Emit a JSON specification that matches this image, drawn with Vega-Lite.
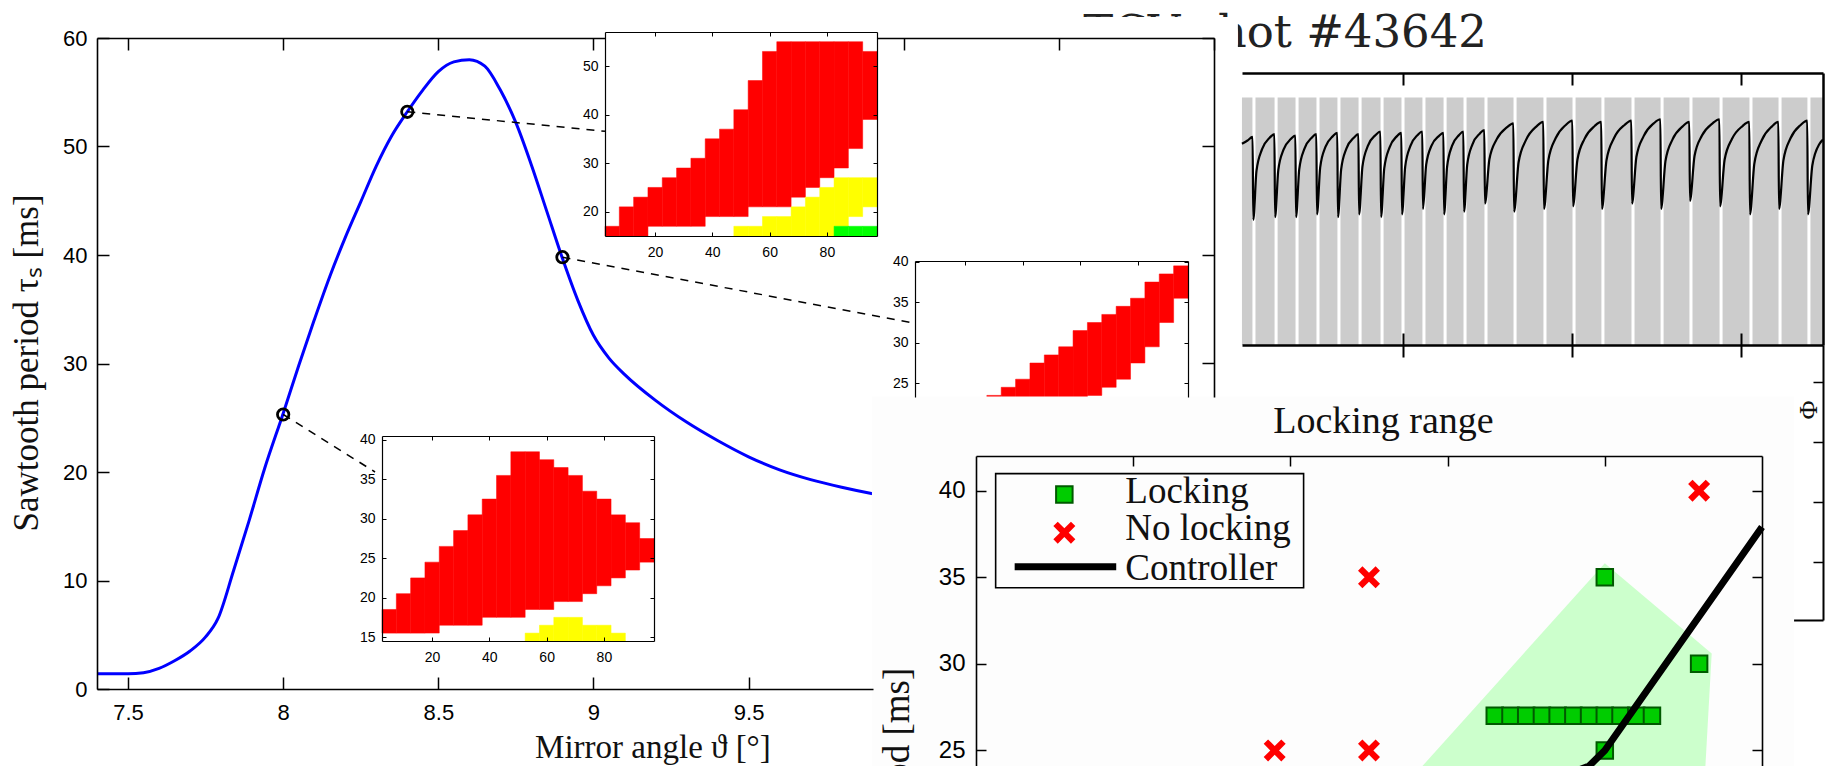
{
"$schema":"https://vega.github.io/schema/vega-lite/v6.json",
"width":1825,"height":766,"autosize":"none","padding":0,"background":"white",
"config":{"view":{"stroke":null},"axis":{"grid":false,"labelFont":"Liberation Sans","labelColor":"#000","domainColor":"#000","tickColor":"#000","labelFlush":false,"labelOverlap":false}},
"resolve":{"scale":{"x":"independent","y":"independent","color":"independent","stroke":"independent"},"axis":{"x":"independent","y":"independent"}},
"layer":[
{"data":{"values":[{"t0":504.7,"t1":510.9},{"t0":512.7,"t1":524.0},{"t0":525.8,"t1":536.4},{"t0":538.2,"t1":548.8},{"t0":550.6,"t1":561.2},{"t0":563.0,"t1":573.7},{"t0":575.5,"t1":586.7},{"t0":588.5,"t1":599.1},{"t0":600.9,"t1":611.5},{"t0":613.3,"t1":624.0},{"t0":625.8,"t1":635.8},{"t0":637.6,"t1":648.2},{"t0":650.0,"t1":665.4},{"t0":667.2,"t1":683.1},{"t0":684.9,"t1":700.3},{"t0":702.1,"t1":717.4},{"t0":719.2,"t1":735.2},{"t0":737.0,"t1":752.4},{"t0":754.2,"t1":769.5},{"t0":771.3,"t1":787.3},{"t0":789.1,"t1":805.0},{"t0":806.8,"t1":822.2},{"t0":824.0,"t1":839.3},{"t0":841.1,"t1":848.5}]},
 "mark":{"type":"rect","fill":"#cccccc"},
 "encoding":{
  "x":{"field":"t0","type":"quantitative","scale":{"domain":[504.73,848.52],"range":[1242,1823],"nice":false,"zero":false},"axis":{"orient":"top","offset":-73,"values":[600,700,800],"tickSize":-12,"tickWidth":2,"labels":false,"domainWidth":2.5,"zindex":1,"title":null}},
  "x2":{"field":"t1"},
  "y":{"datum":0,"type":"quantitative","scale":{"domain":[0,1],"range":[345,73],"nice":false,"zero":false},"axis":null},
  "y2":{"datum":0.91}}},
{"data":{"values":[
{"t":504.7,"v":0.74},{"t":508.0,"v":0.752},{"t":511.0,"v":0.765},
{"t":511.4,"v":0.46},{"t":513.3,"v":0.64},{"t":516.6,"v":0.72},{"t":521.1,"v":0.762},{"t":523.9,"v":0.775},
{"t":524.3,"v":0.47},{"t":526.2,"v":0.643},{"t":529.3,"v":0.718},{"t":533.6,"v":0.757},{"t":536.3,"v":0.77},
{"t":536.7,"v":0.47},{"t":538.6,"v":0.646},{"t":541.7,"v":0.722},{"t":546.0,"v":0.762},{"t":548.7,"v":0.775},
{"t":549.1,"v":0.48},{"t":551.0,"v":0.653},{"t":554.1,"v":0.728},{"t":558.4,"v":0.767},{"t":561.1,"v":0.78},
{"t":561.5,"v":0.47},{"t":563.4,"v":0.646},{"t":566.5,"v":0.722},{"t":570.9,"v":0.762},{"t":573.6,"v":0.775},
{"t":574.0,"v":0.48},{"t":576.0,"v":0.656},{"t":579.2,"v":0.732},{"t":583.8,"v":0.772},{"t":586.6,"v":0.785},
{"t":587.0,"v":0.47},{"t":588.9,"v":0.649},{"t":592.0,"v":0.726},{"t":596.3,"v":0.767},{"t":599.0,"v":0.78},
{"t":599.4,"v":0.48},{"t":601.3,"v":0.656},{"t":604.4,"v":0.732},{"t":608.7,"v":0.772},{"t":611.4,"v":0.785},
{"t":611.8,"v":0.50},{"t":613.7,"v":0.662},{"t":616.8,"v":0.732},{"t":621.2,"v":0.768},{"t":623.9,"v":0.78},
{"t":624.3,"v":0.48},{"t":626.1,"v":0.656},{"t":629.0,"v":0.732},{"t":633.2,"v":0.772},{"t":635.7,"v":0.785},
{"t":636.1,"v":0.49},{"t":638.0,"v":0.663},{"t":641.1,"v":0.738},{"t":645.4,"v":0.777},{"t":648.1,"v":0.79},
{"t":648.5,"v":0.52},{"t":651.1,"v":0.682},{"t":655.4,"v":0.756},{"t":661.4,"v":0.80},{"t":665.3,"v":0.815},
{"t":665.7,"v":0.49},{"t":668.4,"v":0.672},{"t":672.8,"v":0.754},{"t":679.0,"v":0.804},{"t":683.0,"v":0.82},
{"t":683.4,"v":0.50},{"t":686.0,"v":0.679},{"t":690.3,"v":0.76},{"t":696.3,"v":0.809},{"t":700.2,"v":0.825},
{"t":700.6,"v":0.51},{"t":703.2,"v":0.681},{"t":707.4,"v":0.758},{"t":713.4,"v":0.805},{"t":717.3,"v":0.82},
{"t":717.7,"v":0.50},{"t":720.4,"v":0.679},{"t":724.8,"v":0.76},{"t":731.1,"v":0.809},{"t":735.1,"v":0.825},
{"t":735.5,"v":0.52},{"t":738.1,"v":0.691},{"t":742.4,"v":0.768},{"t":748.4,"v":0.815},{"t":752.3,"v":0.83},
{"t":752.7,"v":0.50},{"t":755.3,"v":0.676},{"t":759.5,"v":0.756},{"t":765.5,"v":0.804},{"t":769.4,"v":0.82},
{"t":769.8,"v":0.53},{"t":772.5,"v":0.695},{"t":776.9,"v":0.77},{"t":783.2,"v":0.815},{"t":787.2,"v":0.83},
{"t":787.6,"v":0.51},{"t":790.3,"v":0.681},{"t":794.7,"v":0.758},{"t":800.9,"v":0.805},{"t":804.9,"v":0.82},
{"t":805.3,"v":0.48},{"t":807.9,"v":0.667},{"t":812.2,"v":0.752},{"t":818.2,"v":0.803},{"t":822.1,"v":0.82},
{"t":822.5,"v":0.50},{"t":825.1,"v":0.679},{"t":829.3,"v":0.76},{"t":835.3,"v":0.809},{"t":839.2,"v":0.825},
{"t":839.6,"v":0.48},{"t":842.2,"v":0.66},{"t":846.5,"v":0.74},{"t":848.5,"v":0.755}]},
 "mark":{"type":"line","color":"#000","strokeWidth":2.2,"interpolate":"monotone"},
 "encoding":{
  "x":{"field":"t","type":"quantitative","scale":{"domain":[504.73,848.52],"range":[1242,1823],"nice":false,"zero":false},"axis":{"orient":"bottom","offset":-421,"values":[600,700,800],"tickSize":-12,"tickWidth":2,"labels":false,"domainWidth":2.5,"zindex":1,"title":null}},
  "y":{"field":"v","type":"quantitative","scale":{"domain":[0,1],"range":[345,73],"nice":false,"zero":false},"axis":{"orient":"right","offset":-2,"ticks":false,"labels":false,"domainWidth":2.5,"zindex":1,"title":null}}}},
{"data":{"values":[{"t":649.7,"v":1.096,"label":"TCV shot #43642"}]},
 "mark":{"type":"text","font":"DejaVu Serif","fontSize":45,"align":"right","baseline":"alphabetic","color":"#222"},
 "encoding":{
  "text":{"field":"label"},
  "x":{"field":"t","type":"quantitative","scale":{"domain":[504.73,848.52],"range":[1242,1823],"nice":false,"zero":false},"axis":{"orient":"bottom","offset":-421,"values":[600,700,800],"tickSize":12,"tickWidth":2,"labels":false,"domain":false,"zindex":1,"title":null}},
  "y":{"field":"v","type":"quantitative","scale":{"domain":[0,1],"range":[345,73],"nice":false,"zero":false},"axis":null}}},
{"data":{"values":[{"t":839.6,"p":3.533,"label":"Φ"}]},
 "mark":{"type":"text","font":"Liberation Serif","fontSize":26,"angle":90,"align":"center","baseline":"middle","color":"#111"},
 "encoding":{
  "text":{"field":"label"},
  "x":{"field":"t","type":"quantitative","scale":{"domain":[504.73,848.52],"range":[1242,1823],"nice":false,"zero":false},"axis":{"orient":"bottom","offset":-146,"ticks":false,"labels":false,"domainWidth":2,"title":null}},
  "y":{"field":"p","type":"quantitative","scale":{"domain":[0.033,4.617],"range":[620,345],"nice":false,"zero":false},"axis":{"orient":"right","offset":-2,"values":[1,2,3,4],"tickSize":-10,"tickWidth":1.5,"labels":false,"domainWidth":2,"title":null}}}},
{"data":{"values":[{"a":7.40,"tau":1.4},{"a":7.50,"tau":1.4},{"a":7.55,"tau":1.5},{"a":7.60,"tau":1.9},{"a":7.65,"tau":2.6},{"a":7.70,"tau":3.5},{"a":7.75,"tau":4.8},{"a":7.79,"tau":6.5},{"a":7.84,"tau":10.9},{"a":7.89,"tau":15.5},{"a":7.94,"tau":20.3},{"a":8.00,"tau":25.4},{"a":8.05,"tau":29.8},{"a":8.10,"tau":34.0},{"a":8.15,"tau":38.0},{"a":8.20,"tau":41.6},{"a":8.25,"tau":44.9},{"a":8.30,"tau":48.2},{"a":8.35,"tau":51.0},{"a":8.40,"tau":53.2},{"a":8.45,"tau":55.2},{"a":8.50,"tau":56.9},{"a":8.55,"tau":57.8},{"a":8.60,"tau":58.0},{"a":8.65,"tau":57.4},{"a":8.70,"tau":55.2},{"a":8.75,"tau":52.2},{"a":8.80,"tau":48.3},{"a":8.85,"tau":44.0},{"a":8.90,"tau":39.7},{"a":8.95,"tau":35.8},{"a":9.00,"tau":32.6},{"a":9.05,"tau":30.5},{"a":9.10,"tau":29.0},{"a":9.20,"tau":26.6},{"a":9.30,"tau":24.6},{"a":9.40,"tau":22.9},{"a":9.50,"tau":21.4},{"a":9.60,"tau":20.2},{"a":9.70,"tau":19.3},{"a":9.80,"tau":18.6},{"a":9.90,"tau":18.0},{"a":10.0,"tau":17.5},{"a":10.2,"tau":16.6},{"a":10.5,"tau":15.5},{"a":11.0,"tau":14.2}]},
 "mark":{"type":"line","color":"#0000ff","strokeWidth":3,"interpolate":"monotone"},
 "encoding":{
  "x":{"field":"a","type":"quantitative","scale":{"domain":[7.4,11.0],"range":[97,1214],"nice":false,"zero":false},"axis":null},
  "y":{"field":"tau","type":"quantitative","scale":{"domain":[0,60],"range":[689,38],"nice":false,"zero":false},"axis":{"orient":"left","offset":-97,"values":[0,10,20,30,40,50,60],"tickSize":-12,"tickWidth":1.5,"labelPadding":22,"labelFontSize":22,"domainWidth":1.6,"zindex":1,"title":null}}}},
{"data":{"values":[{"a":8.0,"tau":25.3},{"a":8.4,"tau":53.2},{"a":8.9,"tau":39.8}]},
 "mark":{"type":"point","shape":"circle","filled":false,"color":"#000","strokeWidth":2.8,"size":130,"opacity":1},
 "encoding":{
  "x":{"field":"a","type":"quantitative","scale":{"domain":[7.4,9.9008],"range":[97,873],"nice":false,"zero":false},"axis":{"orient":"bottom","offset":-77,"values":[7.5,8,8.5,9,9.5],"format":"~g","tickSize":-12,"tickWidth":1.5,"labelPadding":25,"labelFontSize":22,"domainWidth":1.6,"zindex":1,"title":null}},
  "y":{"field":"tau","type":"quantitative","scale":{"domain":[0,60],"range":[689,38],"nice":false,"zero":false},"axis":null}}},
{"data":{"values":[{"seg":"A","a":8.4,"tau":53.2},{"seg":"A","a":9.037,"tau":51.4},{"seg":"B","a":8.9,"tau":39.8},{"seg":"B","a":10.036,"tau":33.7},{"seg":"C","a":8.0,"tau":25.3},{"seg":"C","a":8.296,"tau":20.0}]},
 "mark":{"type":"line","color":"#000","strokeWidth":1.5,"strokeDash":[8,7]},
 "encoding":{
  "detail":{"field":"seg"},
  "x":{"field":"a","type":"quantitative","scale":{"domain":[7.4,9.0371],"range":[97,605],"nice":false,"zero":false},"axis":{"orient":"top","offset":-38,"values":[7.5,8,8.5,9],"tickSize":-12,"tickWidth":1.5,"labels":false,"domainWidth":1.6,"zindex":1,"title":null}},
  "y":{"field":"tau","type":"quantitative","scale":{"domain":[26.912,60],"range":[397,38],"nice":false,"zero":false},"axis":{"orient":"right","offset":-611,"values":[30,40,50,60],"tickSize":-12,"tickWidth":1.5,"labels":false,"domainWidth":1.6,"zindex":1,"title":null}}}},
{"data":{"values":[{"a0":10.439,"a1":11.077,"t0":57.97,"t1":61.94}]},
 "mark":{"type":"rect","fill":"white"},
 "encoding":{
  "x":{"field":"a0","type":"quantitative","scale":{"domain":[9.9139,11.0],"range":[877,1214],"nice":false,"zero":false},"axis":{"orient":"top","offset":-38,"values":[10,10.5,11],"tickSize":-12,"tickWidth":1.5,"labels":false,"domainWidth":1.6,"zindex":1,"title":null}},
  "x2":{"field":"a1"},
  "y":{"field":"t0","type":"quantitative","scale":{"domain":[0,60],"range":[689,38],"nice":false,"zero":false},"axis":null},
  "y2":{"field":"t1"}}},
{"data":{"values":[{"a":9.1918,"tau":-6.36,"label":"Mirror angle ϑ [°]"}]},
 "mark":{"type":"text","font":"Liberation Serif","fontSize":33,"align":"center","baseline":"alphabetic","color":"#111"},
 "encoding":{
  "text":{"field":"label"},
  "x":{"field":"a","type":"quantitative","scale":{"domain":[7.4,11.0],"range":[97,1214],"nice":false,"zero":false},"axis":null},
  "y":{"field":"tau","type":"quantitative","scale":{"domain":[0,60],"range":[689,38],"nice":false,"zero":false},"axis":null}}},
{"data":{"values":[{"a":7.1744,"tau":30.05,"label":"Sawtooth period τₛ [ms]"}]},
 "mark":{"type":"text","font":"Liberation Serif","fontSize":35,"align":"center","baseline":"middle","angle":270,"color":"#111"},
 "encoding":{
  "text":{"field":"label"},
  "x":{"field":"a","type":"quantitative","scale":{"domain":[7.4,11.0],"range":[97,1214],"nice":false,"zero":false},"axis":null},
  "y":{"field":"tau","type":"quantitative","scale":{"domain":[0,60],"range":[689,38],"nice":false,"zero":false},"axis":null}}},
{"data":{"values":[{"x0":2.5,"x1":97.5,"y0":15,"y1":57}]},
 "mark":{"type":"rect","fill":"white"},
 "encoding":{
  "x":{"field":"x0","type":"quantitative","scale":{"domain":[2.5,97.5],"range":[605,877],"nice":false,"zero":false},"axis":{"orient":"bottom","offset":-530,"values":[20,40,60,80],"tickSize":-4,"tickWidth":1,"labelPadding":13,"labelFontSize":14,"domainWidth":1.2,"zindex":1,"title":null}},
  "x2":{"field":"x1"},
  "y":{"field":"y0","type":"quantitative","scale":{"domain":[15,57],"range":[236,32],"nice":false,"zero":false},"axis":{"orient":"left","offset":-605,"values":[20,30,40,50],"tickSize":-4,"tickWidth":1,"labelPadding":11,"labelFontSize":14,"domainWidth":1.2,"zindex":1,"title":null}},
  "y2":{"field":"y1"}}},
{"data":{"values":[
{"x0":2.5,"x1":7.5,"y0":15,"y1":17,"c":"red"},{"x0":7.5,"x1":12.5,"y0":15,"y1":21,"c":"red"},{"x0":12.5,"x1":17.5,"y0":15,"y1":23,"c":"red"},{"x0":17.5,"x1":22.5,"y0":17,"y1":25,"c":"red"},{"x0":22.5,"x1":27.5,"y0":17,"y1":27,"c":"red"},{"x0":27.5,"x1":32.5,"y0":17,"y1":29,"c":"red"},{"x0":32.5,"x1":37.5,"y0":17,"y1":31,"c":"red"},{"x0":37.5,"x1":42.5,"y0":19,"y1":35,"c":"red"},{"x0":42.5,"x1":47.5,"y0":19,"y1":37,"c":"red"},{"x0":47.5,"x1":52.5,"y0":19,"y1":41,"c":"red"},{"x0":52.5,"x1":57.5,"y0":21,"y1":47,"c":"red"},{"x0":57.5,"x1":62.5,"y0":21,"y1":53,"c":"red"},{"x0":62.5,"x1":67.5,"y0":21,"y1":55,"c":"red"},{"x0":67.5,"x1":72.5,"y0":23,"y1":55,"c":"red"},{"x0":72.5,"x1":77.5,"y0":25,"y1":55,"c":"red"},{"x0":77.5,"x1":82.5,"y0":27,"y1":55,"c":"red"},{"x0":82.5,"x1":87.5,"y0":29,"y1":55,"c":"red"},{"x0":87.5,"x1":92.5,"y0":33,"y1":55,"c":"red"},{"x0":92.5,"x1":97.5,"y0":39,"y1":53,"c":"red"},
{"x0":47.5,"x1":52.5,"y0":15,"y1":17,"c":"yellow"},{"x0":52.5,"x1":57.5,"y0":15,"y1":17,"c":"yellow"},{"x0":57.5,"x1":62.5,"y0":15,"y1":19,"c":"yellow"},{"x0":62.5,"x1":67.5,"y0":15,"y1":19,"c":"yellow"},{"x0":67.5,"x1":72.5,"y0":15,"y1":21,"c":"yellow"},{"x0":72.5,"x1":77.5,"y0":15,"y1":23,"c":"yellow"},{"x0":77.5,"x1":82.5,"y0":15,"y1":25,"c":"yellow"},{"x0":82.5,"x1":87.5,"y0":17,"y1":27,"c":"yellow"},{"x0":87.5,"x1":92.5,"y0":19,"y1":27,"c":"yellow"},{"x0":92.5,"x1":97.5,"y0":21,"y1":27,"c":"yellow"},
{"x0":82.5,"x1":87.5,"y0":15,"y1":17,"c":"green"},{"x0":87.5,"x1":92.5,"y0":15,"y1":17,"c":"green"},{"x0":92.5,"x1":97.5,"y0":15,"y1":17,"c":"green"}]},
 "mark":{"type":"rect","strokeWidth":0.5},
 "encoding":{
  "color":{"field":"c","type":"nominal","scale":{"domain":["red","yellow","green"],"range":["#ff0000","#ffff00","#00ff00"]},"legend":null},
  "stroke":{"field":"c","type":"nominal","scale":{"domain":["red","yellow","green"],"range":["#ff0000","#ffff00","#00ff00"]},"legend":null},
  "x":{"field":"x0","type":"quantitative","scale":{"domain":[2.5,97.5],"range":[605,877],"nice":false,"zero":false},"axis":{"orient":"top","offset":-32,"values":[20,40,60,80],"tickSize":-4,"tickWidth":1,"labels":false,"domainWidth":1.2,"zindex":1,"title":null}},
  "x2":{"field":"x1"},
  "y":{"field":"y0","type":"quantitative","scale":{"domain":[15,57],"range":[236,32],"nice":false,"zero":false},"axis":{"orient":"right","offset":-948,"values":[20,30,40,50],"tickSize":-4,"tickWidth":1,"labels":false,"domainWidth":1.2,"zindex":1,"title":null}},
  "y2":{"field":"y1"}}},
{"data":{"values":[{"x0":2.5,"x1":97.5,"y0":14.5,"y1":40.1}]},
 "mark":{"type":"rect","fill":"white"},
 "encoding":{
  "x":{"field":"x0","type":"quantitative","scale":{"domain":[2.5,97.5],"range":[915,1188],"nice":false,"zero":false},"axis":{"orient":"top","offset":-261,"values":[20,40,60,80],"tickSize":-4,"tickWidth":1,"labels":false,"domainWidth":1.2,"zindex":1,"title":null}},
  "x2":{"field":"x1"},
  "y":{"field":"y0","type":"quantitative","scale":{"domain":[23.3,40.1],"range":[397,261],"nice":false,"zero":false},"axis":{"orient":"left","offset":-915,"values":[25,30,35,40],"tickSize":-4,"tickWidth":1,"labelPadding":11,"labelFontSize":14,"domainWidth":1.2,"zindex":1,"title":null}},
  "y2":{"field":"y1"}}},
{"data":{"values":[
{"x0":27.5,"x1":32.5,"y0":16.5,"y1":23.5,"c":"red"},{"x0":32.5,"x1":37.5,"y0":17.5,"y1":24.5,"c":"red"},{"x0":37.5,"x1":42.5,"y0":18.5,"y1":25.5,"c":"red"},{"x0":42.5,"x1":47.5,"y0":19.5,"y1":27.5,"c":"red"},{"x0":47.5,"x1":52.5,"y0":20.5,"y1":28.5,"c":"red"},{"x0":52.5,"x1":57.5,"y0":21.5,"y1":29.5,"c":"red"},{"x0":57.5,"x1":62.5,"y0":22.5,"y1":31.5,"c":"red"},{"x0":62.5,"x1":67.5,"y0":23.5,"y1":32.5,"c":"red"},{"x0":67.5,"x1":72.5,"y0":24.5,"y1":33.5,"c":"red"},{"x0":72.5,"x1":77.5,"y0":25.5,"y1":34.5,"c":"red"},{"x0":77.5,"x1":82.5,"y0":27.5,"y1":35.5,"c":"red"},{"x0":82.5,"x1":87.5,"y0":29.5,"y1":37.5,"c":"red"},{"x0":87.5,"x1":92.5,"y0":32.5,"y1":38.5,"c":"red"},{"x0":92.5,"x1":97.5,"y0":35.5,"y1":39.5,"c":"red"}]},
 "mark":{"type":"rect","strokeWidth":0.5},
 "encoding":{
  "color":{"field":"c","type":"nominal","scale":{"domain":["red","yellow","green"],"range":["#ff0000","#ffff00","#00ff00"]},"legend":null},
  "stroke":{"field":"c","type":"nominal","scale":{"domain":["red","yellow","green"],"range":["#ff0000","#ffff00","#00ff00"]},"legend":null},
  "x":{"field":"x0","type":"quantitative","scale":{"domain":[2.5,97.5],"range":[915,1188],"nice":false,"zero":false},"axis":null},
  "x2":{"field":"x1"},
  "y":{"field":"y0","type":"quantitative","scale":{"domain":[23.3,40.1],"range":[397,261],"nice":false,"zero":false},"axis":{"orient":"right","offset":-637,"values":[25,30,35,40],"tickSize":-4,"tickWidth":1,"labels":false,"domainWidth":1.2,"zindex":1,"title":null}},
  "y2":{"field":"y1"}}},
{"data":{"values":[{"x0":2.5,"x1":97.5,"y0":14.5,"y1":40.5}]},
 "mark":{"type":"rect","fill":"white"},
 "encoding":{
  "x":{"field":"x0","type":"quantitative","scale":{"domain":[2.5,97.5],"range":[382,654],"nice":false,"zero":false},"axis":{"orient":"bottom","offset":-125,"values":[20,40,60,80],"tickSize":-4,"tickWidth":1,"labelPadding":13,"labelFontSize":14,"domainWidth":1.2,"zindex":1,"title":null}},
  "x2":{"field":"x1"},
  "y":{"field":"y0","type":"quantitative","scale":{"domain":[14.5,40.5],"range":[641,436],"nice":false,"zero":false},"axis":{"orient":"left","offset":-382,"values":[15,20,25,30,35,40],"tickSize":-4,"tickWidth":1,"labelPadding":11,"labelFontSize":14,"domainWidth":1.2,"zindex":1,"title":null}},
  "y2":{"field":"y1"}}},
{"data":{"values":[
{"x0":2.5,"x1":7.5,"y0":15.5,"y1":18.5,"c":"red"},{"x0":7.5,"x1":12.5,"y0":15.5,"y1":20.5,"c":"red"},{"x0":12.5,"x1":17.5,"y0":15.5,"y1":22.5,"c":"red"},{"x0":17.5,"x1":22.5,"y0":15.5,"y1":24.5,"c":"red"},{"x0":22.5,"x1":27.5,"y0":16.5,"y1":26.5,"c":"red"},{"x0":27.5,"x1":32.5,"y0":16.5,"y1":28.5,"c":"red"},{"x0":32.5,"x1":37.5,"y0":16.5,"y1":30.5,"c":"red"},{"x0":37.5,"x1":42.5,"y0":17.5,"y1":32.5,"c":"red"},{"x0":42.5,"x1":47.5,"y0":17.5,"y1":35.5,"c":"red"},{"x0":47.5,"x1":52.5,"y0":17.5,"y1":38.5,"c":"red"},{"x0":52.5,"x1":57.5,"y0":18.5,"y1":38.5,"c":"red"},{"x0":57.5,"x1":62.5,"y0":18.5,"y1":37.5,"c":"red"},{"x0":62.5,"x1":67.5,"y0":19.5,"y1":36.5,"c":"red"},{"x0":67.5,"x1":72.5,"y0":19.5,"y1":35.5,"c":"red"},{"x0":72.5,"x1":77.5,"y0":20.5,"y1":33.5,"c":"red"},{"x0":77.5,"x1":82.5,"y0":21.5,"y1":32.5,"c":"red"},{"x0":82.5,"x1":87.5,"y0":22.5,"y1":30.5,"c":"red"},{"x0":87.5,"x1":92.5,"y0":23.5,"y1":29.5,"c":"red"},{"x0":92.5,"x1":97.5,"y0":24.5,"y1":27.5,"c":"red"},
{"x0":52.5,"x1":57.5,"y0":14.5,"y1":15.5,"c":"yellow"},{"x0":57.5,"x1":62.5,"y0":14.5,"y1":16.5,"c":"yellow"},{"x0":62.5,"x1":67.5,"y0":14.5,"y1":17.5,"c":"yellow"},{"x0":67.5,"x1":72.5,"y0":14.5,"y1":17.5,"c":"yellow"},{"x0":72.5,"x1":77.5,"y0":14.5,"y1":16.5,"c":"yellow"},{"x0":77.5,"x1":82.5,"y0":14.5,"y1":16.5,"c":"yellow"},{"x0":82.5,"x1":87.5,"y0":14.5,"y1":15.5,"c":"yellow"}]},
 "mark":{"type":"rect","strokeWidth":0.5},
 "encoding":{
  "color":{"field":"c","type":"nominal","scale":{"domain":["red","yellow","green"],"range":["#ff0000","#ffff00","#00ff00"]},"legend":null},
  "stroke":{"field":"c","type":"nominal","scale":{"domain":["red","yellow","green"],"range":["#ff0000","#ffff00","#00ff00"]},"legend":null},
  "x":{"field":"x0","type":"quantitative","scale":{"domain":[2.5,97.5],"range":[382,654],"nice":false,"zero":false},"axis":{"orient":"top","offset":-436,"values":[20,40,60,80],"tickSize":-4,"tickWidth":1,"labels":false,"domainWidth":1.2,"zindex":1,"title":null}},
  "x2":{"field":"x1"},
  "y":{"field":"y0","type":"quantitative","scale":{"domain":[14.5,40.5],"range":[641,436],"nice":false,"zero":false},"axis":{"orient":"right","offset":-1171,"values":[15,20,25,30,35,40],"tickSize":-4,"tickWidth":1,"labels":false,"domainWidth":1.2,"zindex":1,"title":null}},
  "y2":{"field":"y1"}}},
{"data":{"values":[{"x0":6.69,"x1":36.02,"y0":20,"y1":45.43}]},
 "mark":{"type":"rect","fill":"#fdfdfd"},
 "encoding":{
  "x":{"field":"x0","type":"quantitative","scale":{"domain":[10,35],"range":[976,1762],"nice":false,"zero":false},"axis":{"orient":"top","offset":-456,"values":[15,20,25,30],"tickSize":-10,"tickWidth":1.5,"labels":false,"domainWidth":1.6,"zindex":1,"title":null}},
  "x2":{"field":"x1"},
  "y":{"field":"y0","type":"quantitative","scale":{"domain":[20,42],"range":[837,456],"nice":false,"zero":false},"axis":{"orient":"left","offset":-976,"values":[25,30,35,40],"tickSize":-10,"tickWidth":1.5,"labelPadding":21,"labelFontSize":24,"domainWidth":1.6,"zindex":1,"title":null}},
  "y2":{"field":"y1"}}},
{"data":{"values":[{"py":20,"xl":22.2,"xr":33.1},{"py":24.1,"xl":24.2,"xr":33.2},{"py":30.6,"xl":27.42,"xr":33.4},{"py":35.8,"xl":30.0,"xr":30.0}]},
 "mark":{"type":"area","orient":"horizontal","fill":"#ccffcc","opacity":1},
 "encoding":{
  "y":{"field":"py","type":"quantitative","scale":{"domain":[20,42],"range":[837,456],"nice":false,"zero":false},"axis":{"orient":"right","offset":-63,"values":[25,30,35,40],"tickSize":-10,"tickWidth":1.5,"labels":false,"domainWidth":1.6,"zindex":1,"title":null}},
  "x":{"field":"xl","type":"quantitative","scale":{"domain":[10,35],"range":[976,1762],"nice":false,"zero":false},"axis":null},
  "x2":{"field":"xr"}}},
{"data":{"values":[{"x":30,"y":35},{"x":33,"y":30},{"x":30,"y":25},{"x":26.5,"y":27},{"x":27,"y":27},{"x":27.5,"y":27},{"x":28,"y":27},{"x":28.5,"y":27},{"x":29,"y":27},{"x":29.5,"y":27},{"x":30,"y":27},{"x":30.5,"y":27},{"x":31,"y":27},{"x":31.5,"y":27},{"x":12.81,"y":39.77}]},
 "mark":{"type":"point","shape":"square","filled":true,"fill":"#00cc00","stroke":"#005a00","strokeWidth":2,"size":272,"opacity":1},
 "encoding":{
  "x":{"field":"x","type":"quantitative","scale":{"domain":[10,35],"range":[976,1762],"nice":false,"zero":false},"axis":null},
  "y":{"field":"y","type":"quantitative","scale":{"domain":[20,42],"range":[837,456],"nice":false,"zero":false},"axis":null}}},
{"data":{"values":[{"x":19.5,"y":25},{"x":22.5,"y":25},{"x":22.5,"y":35},{"x":33,"y":40},{"x":12.81,"y":37.57}]},
 "mark":{"type":"point","shape":"M-1,-0.6L-0.6,-1L0,-0.4L0.6,-1L1,-0.6L0.4,0L1,0.6L0.6,1L0,0.4L-0.6,1L-1,0.6L-0.4,0Z","filled":true,"fill":"#ff0000","strokeWidth":0,"size":484,"opacity":1},
 "encoding":{
  "x":{"field":"x","type":"quantitative","scale":{"domain":[10,35],"range":[976,1762],"nice":false,"zero":false},"axis":null},
  "y":{"field":"y","type":"quantitative","scale":{"domain":[20,42],"range":[837,456],"nice":false,"zero":false},"axis":null}}},
{"data":{"values":[{"x":28.5,"y":23.4},{"x":29.5,"y":24.1},{"x":30.0,"y":25.0},{"x":35.0,"y":37.9}]},
 "mark":{"type":"line","color":"#000","strokeWidth":7},
 "encoding":{
  "x":{"field":"x","type":"quantitative","scale":{"domain":[10,35],"range":[976,1762],"nice":false,"zero":false},"axis":null},
  "y":{"field":"y","type":"quantitative","scale":{"domain":[20,42],"range":[837,456],"nice":false,"zero":false},"axis":null}}},
{"data":{"values":[{"x0":10.625,"x1":20.42,"y0":34.39,"y1":40.98}]},
 "mark":{"type":"rect","fill":"#ffffff","fillOpacity":0,"stroke":"#000","strokeWidth":1.6},
 "encoding":{
  "x":{"field":"x0","type":"quantitative","scale":{"domain":[10,35],"range":[976,1762],"nice":false,"zero":false},"axis":null},
  "x2":{"field":"x1"},
  "y":{"field":"y0","type":"quantitative","scale":{"domain":[20,42],"range":[837,456],"nice":false,"zero":false},"axis":null},
  "y2":{"field":"y1"}}},
{"data":{"values":[{"x0":11.23,"x1":14.46,"y":35.6}]},
 "mark":{"type":"rule","color":"#000","strokeWidth":7},
 "encoding":{
  "x":{"field":"x0","type":"quantitative","scale":{"domain":[10,35],"range":[976,1762],"nice":false,"zero":false},"axis":null},
  "x2":{"field":"x1"},
  "y":{"field":"y","type":"quantitative","scale":{"domain":[20,42],"range":[837,456],"nice":false,"zero":false},"axis":null}}},
{"data":{"values":[{"label":"Locking","x":14.75,"y":39.31},{"label":"No locking","x":14.75,"y":37.17},{"label":"Controller","x":14.75,"y":34.86}]},
 "mark":{"type":"text","font":"Liberation Serif","fontSize":37,"align":"left","baseline":"alphabetic","color":"#111"},
 "encoding":{
  "text":{"field":"label"},
  "x":{"field":"x","type":"quantitative","scale":{"domain":[10,35],"range":[976,1762],"nice":false,"zero":false},"axis":null},
  "y":{"field":"y","type":"quantitative","scale":{"domain":[20,42],"range":[837,456],"nice":false,"zero":false},"axis":null}}},
{"data":{"values":[{"label":"Locking range","x":22.96,"y":43.35}]},
 "mark":{"type":"text","font":"Liberation Serif","fontSize":38,"align":"center","baseline":"alphabetic","color":"#111"},
 "encoding":{
  "text":{"field":"label"},
  "x":{"field":"x","type":"quantitative","scale":{"domain":[10,35],"range":[976,1762],"nice":false,"zero":false},"axis":null},
  "y":{"field":"y","type":"quantitative","scale":{"domain":[20,42],"range":[837,456],"nice":false,"zero":false},"axis":null}}},
{"data":{"values":[{"label":"Sawtooth period [ms]","x":7.52,"y":29.77}]},
 "mark":{"type":"text","font":"Liberation Serif","fontSize":37,"align":"right","baseline":"middle","angle":270,"color":"#111"},
 "encoding":{
  "text":{"field":"label"},
  "x":{"field":"x","type":"quantitative","scale":{"domain":[10,35],"range":[976,1762],"nice":false,"zero":false},"axis":null},
  "y":{"field":"y","type":"quantitative","scale":{"domain":[20,42],"range":[837,456],"nice":false,"zero":false},"axis":null}}}
]}
